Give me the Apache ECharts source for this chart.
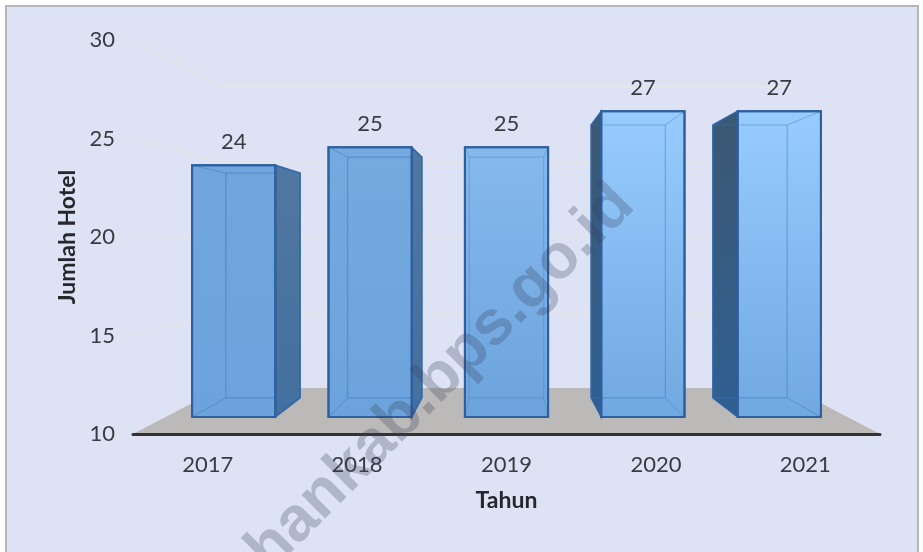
<!DOCTYPE html>
<html><head><meta charset="utf-8">
<style>html,body{margin:0;padding:0;background:#fff}#c{width:923px;height:552px}</style>
<script src="https://cdn.jsdelivr.net/npm/echarts@6/dist/echarts.min.js"></script>
</head><body><div id="c"></div>
<script>
const years = ['2017','2018','2019','2020','2021'];
const hotels = [24,25,25,27,27];
const wallTicks = [15,20,25,30];
const faceTop = ['#70a6dc','#74aade','#86baee','#98ccff','#98ccff'];
const faceBottom = ['#6ca3dc','#6ca3dc','#6ca3dc','#70a8e0','#70a8e0'];
const sideTop = ['#50779f','#50779f','#50779f','#3c5872','#3c5872'];
const sideBottom = ['#44709f','#44709f','#44709f','#2f5f92','#2f5f92'];
const innerAlpha = [0.5,0.5,0.3,0.45,0.45];
const FONT = 'Lato, "Open Sans", sans-serif';
const S_BACK = 0.764, S_FRONT = 0.913, S_REAR = 0.815, BAR_W = 0.61, VANISH_VALUE = 19.9;

const chart = echarts.init(document.getElementById('c'), null, {renderer:'canvas'});

function projector(api, params){
  const cs = params.coordSys;
  const vx = cs.x + cs.width/2, vy = api.coord([0, VANISH_VALUE])[1];
  return (x,y,s)=>[vx + s*(x-vx), vy + s*(y-vy)];
}

const wallSeries = {
  type:'custom', silent:true, z:1, clip:false,
  data: wallTicks.map(v=>[0,v]),
  encode:{x:0,y:1},
  renderItem(params, api){
    const cs = params.coordSys, p = projector(api, params);
    const y = api.coord([0, api.value(1)])[1];
    return {type:'polyline', shape:{points:[[cs.x,y], p(cs.x,y,S_BACK), p(cs.x+cs.width,y,S_BACK)]},
      style:{stroke:'#e4e5e9', lineWidth:2, fill:null}};
  }
};
const floorSeries = {
  type:'custom', silent:true, z:2, clip:false,
  data:[[0,10]],
  encode:{x:0,y:1},
  renderItem(params, api){
    const cs = params.coordSys, p = projector(api, params);
    const y = api.coord([0,10])[1], l = cs.x, r = cs.x+cs.width;
    return {type:'polygon', shape:{points:[[l,y], p(l,y,S_BACK), p(r,y,S_BACK), [r,y]]},
      style:{fill:'#bcbab8'}};
  }
};
const barSeries = {
  type:'custom', silent:true, z:3, clip:false,
  data: hotels.map((v,i)=>[i,v]),
  encode:{x:0,y:1},
  renderItem(params, api){
    const i = api.value(0), v = api.value(1), p = projector(api, params);
    const c = api.coord([i,v]), b = api.coord([i,10]), w = api.size([1,0])[0]*BAR_W;
    const l = c[0]-w/2, r = c[0]+w/2, t = c[1], g = b[1];
    const F = s=>[p(l,t,s), p(r,t,s), p(r,g,s), p(l,g,s)];
    const fr = F(S_FRONT), bk = F(S_REAR);
    const grad = (a,z)=>new echarts.graphic.LinearGradient(0,0,0,1,[{offset:0,color:a},{offset:1,color:z}]);
    const edge = '#2f5f9e', inner = 'rgba(58,120,190,'+innerAlpha[i]+')';
    const kids = [];
    const side = (i0,i1)=>({type:'polygon', shape:{points:[fr[i0],bk[i0],bk[i1],fr[i1]]},
      style:{fill:grad(sideTop[i],sideBottom[i]), stroke:edge, lineWidth:1.5}});
    if (bk[1][0] > fr[1][0]) kids.push(side(1,2));
    if (bk[0][0] < fr[0][0]) kids.push(side(0,3));
    kids.push({type:'polygon', shape:{points:fr},
      style:{fill:grad(faceTop[i],faceBottom[i]), stroke:edge, lineWidth:2}});
    kids.push({type:'polygon', shape:{points:bk}, style:{fill:null, stroke:inner, lineWidth:1.2}});
    for (let k=0;k<4;k++) kids.push({type:'line',
      shape:{x1:fr[k][0],y1:fr[k][1],x2:bk[k][0],y2:bk[k][1]}, style:{stroke:inner,lineWidth:1}});
    kids.push({type:'polygon', shape:{points:fr}, style:{fill:null, stroke:edge, lineWidth:2}});
    kids.push({type:'text', style:{text:String(v), x:(fr[0][0]+fr[1][0])/2, y:fr[0][1]-23,
      align:'center', verticalAlign:'middle', fill:'#3a3a42', font:'22px '+FONT}});
    return {type:'group', children:kids};
  }
};

chart.setOption({
  animation:false,
  backgroundColor:'#ffffff',
  graphic:[
    {type:'rect', z:-1, shape:{x:6,y:6,width:912,height:552}, style:{fill:'#dde3f4', stroke:'#b4b6bb', lineWidth:2}},
    {type:'text', z:100, x:441, y:378, rotation:0.785,
      style:{text:'hankab.bps.go.id', align:'center', verticalAlign:'middle',
        fill:'rgba(50,62,90,0.27)', font:'bold 63px "Liberation Sans", sans-serif'}}
  ],
  grid:{left:133,right:43,top:40,bottom:118,containLabel:false},
  xAxis:{type:'category',data:years,
    axisLine:{show:true,onZero:false,lineStyle:{color:'#333333',width:3,cap:'round'}},axisTick:{show:false},
    axisLabel:{color:'#3a3a42',fontFamily:'Lato',fontSize:22,margin:20},
    name:'Tahun',nameLocation:'middle',nameGap:55,
    nameTextStyle:{color:'#26262c',fontFamily:'Lato',fontWeight:'bold',fontSize:23},z:5},
  yAxis:{type:'value',min:10,max:30,interval:5,
    axisLine:{show:false},axisTick:{show:false},splitLine:{show:false},
    axisLabel:{color:'#3a3a42',fontFamily:'Lato',fontSize:22,margin:18,padding:[4,0,0,0]},
    name:'Jumlah Hotel',nameLocation:'middle',nameGap:53,nameRotate:90,
    nameTextStyle:{color:'#26262c',fontFamily:'Lato',fontWeight:'bold',fontSize:23}},
  series:[wallSeries,floorSeries,barSeries]
});
</script></body></html>
